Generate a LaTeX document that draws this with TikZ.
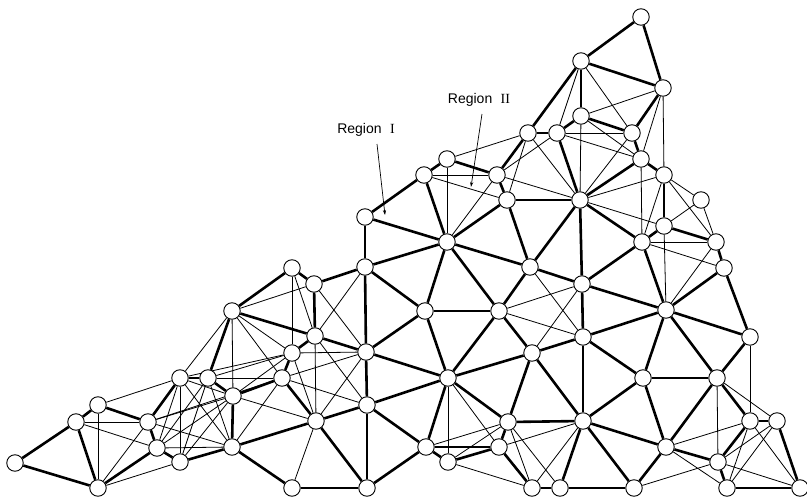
\documentclass[tikz,border=0pt]{standalone}
\usepackage{fontspec}
\setmainfont{Liberation Sans}
\newfontfamily\numfont{Liberation Serif}
\usetikzlibrary{arrows.meta}
\pgfdeclarelayer{bg}
\pgfsetlayers{bg,main}
\begin{document}
\begin{tikzpicture}[x=1pt,y=-1pt,
  nd/.style={circle,draw,fill=white,minimum size=16.5pt,inner sep=0pt,line width=0.9pt},
  hv/.style={line width=2.6pt},
  lt/.style={line width=0.8pt},
  lbl/.style={font=\fontsize{14}{16}\selectfont,inner sep=0pt},
  arr/.style={line width=0.7pt,-{Stealth[length=5pt,width=3.2pt]}}]
\useasboundingbox (0,0) rectangle (807,498);
\foreach \i/\x/\y in {
 1/641/17, 2/581/61, 3/663/88, 4/581/116, 5/557/133, 6/528/133, 7/632/133,
 8/641/159, 9/664/175, 10/701/200, 11/580/200, 12/664/226, 13/642/242,
 14/716/242, 15/724/268, 16/447/159, 17/424/175, 18/497/175, 19/507/200,
 20/365/217, 21/447/242, 22/365/267, 23/530/267, 24/292/268, 25/314/284,
 26/425/311, 27/499/311, 28/582/284, 29/666/310, 30/232/311, 31/315/336,
 32/292/353, 33/366/352, 34/532/353, 35/583/337, 36/750/337, 37/282/378,
 38/448/378, 39/643/378, 40/717/378, 41/15/463, 42/98/488, 43/76/422,
 44/98/405, 45/148/422, 46/157/448, 47/180/378, 48/208/378, 49/233/396,
 50/180/462, 51/232/447, 52/367/405, 53/316/421, 54/508/422, 55/583/421,
 56/750/421, 57/777/421, 58/426/447, 59/499/447, 60/666/447, 61/448/462,
 62/718/462, 63/292/488, 64/367/488, 65/532/488, 66/560/488, 67/634/488,
 68/727/488, 69/800/488}
 \node[nd] (n\i) at (\x,\y) {};
\begin{pgfonlayer}{bg}
\foreach \a/\b in {1/2,1/3,2/3,2/4,2/6,4/5,5/6,4/7,7/3,7/8,8/9,8/11,9/12,12/14,
 12/13,14/15,13/11,13/28,13/29,15/29,15/36,11/28,11/23,11/19,11/5,6/18,16/18,
 16/17,17/20,17/21,18/19,19/21,19/23,20/21,20/22,21/22,21/26,21/27,21/23,23/27,
 23/28,28/29,28/35,
 24/25,24/30,25/22,25/31,22/26,22/33,26/27,26/33,26/38,27/38,27/34,29/35,29/39,
 29/40,29/36,36/40,35/34,35/39,35/55,34/38,34/54,34/55,30/31,30/48,31/32,31/33,
 32/37,33/38,33/52,37/49,37/53,48/49,49/51,52/53,53/51,53/64,52/38,52/64,52/58,
 51/63,63/64,64/58,58/61,58/59,61/59,58/38,38/54,54/59,54/55,59/65,55/66,55/60,
 55/67,55/39,39/40,39/60,40/60,40/56,60/67,60/62,62/68,62/56,56/57,57/69,68/69,
 65/66,66/67,
 41/43,41/42,43/44,43/42,44/45,42/46,45/46,45/47,46/50,47/48,50/51}
 \draw[hv] (n\a) -- (n\b);
\foreach \a/\b in {2/5,2/7,3/4,3/8,3/9,4/8,4/11,5/7,5/8,7/11,8/13,9/10,9/11,9/13,
 9/14,10/12,10/14,11/12,12/29,13/14,13/15,29/14,16/6,16/21,17/18,17/19,18/21,
 18/11,18/5,19/6,6/11,
 24/32,24/31,30/25,22/31,25/33,30/32,30/49,30/47,30/37,31/53,31/52,32/33,32/48,
 32/49,32/53,33/37,33/53,37/48,37/52,37/51,49/53,53/63,27/28,27/35,28/34,35/23,
 38/61,38/59,58/54,61/54,61/65,54/65,54/66,59/55,55/65,36/56,40/62,40/57,60/56,
 60/68,67/62,62/57,62/69,56/68,57/68,56/69,
 43/45,43/46,44/47,44/42,42/45,42/50,47/49,47/50,47/51,47/46,47/32,48/50,48/51,
 48/46,49/45,49/50,49/46,45/51,45/37,46/51}
 \draw[lt] (n\a) -- (n\b);
\end{pgfonlayer}
\node[lbl] (r1) at (366,130) {Region\hspace{0.6em}{\numfont I}};
\node[lbl] (r2) at (479,100) {Region\hspace{0.6em}{\numfont II}};
\coordinate (a1s) at (377,144);
\coordinate (a1e) at (385,215);
\coordinate (a2s) at (482,114);
\coordinate (a2e) at (471,187);
\draw[arr] (a1s) -- (a1e);
\draw[arr] (a2s) -- (a2e);
\end{tikzpicture}
\end{document}
